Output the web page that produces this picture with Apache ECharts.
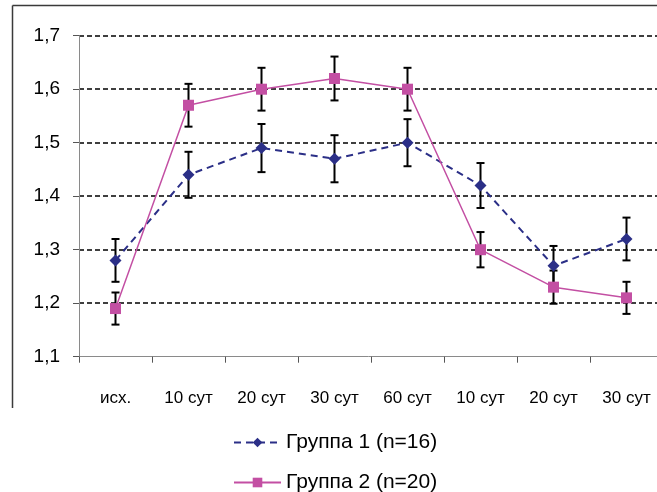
<!DOCTYPE html>
<html><head><meta charset="utf-8">
<script src="https://cdn.jsdelivr.net/npm/echarts@6/dist/echarts.min.js"></script>
<style>html,body{margin:0;padding:0;background:#fff}#c{width:657px;height:492px}</style>
</head><body><div id="c"></div>
<script>
var categories = ['исх.', '10 сут', '20 сут', '30 сут', '60 сут', '10 сут', '20 сут', '30 сут'];
var group1 = [1.28, 1.44, 1.49, 1.47, 1.50, 1.42, 1.27, 1.32];
var group1Err = [0.04, 0.043, 0.045, 0.044, 0.044, 0.042, 0.037, 0.04];
var group2 = [1.19, 1.57, 1.60, 1.62, 1.60, 1.30, 1.23, 1.21];
var group2Err = [0.03, 0.04, 0.04, 0.041, 0.04, 0.033, 0.031, 0.03];
var seriesNames = ['Группа 1 (n=16)', 'Группа 2 (n=20)'];
var yTicks = { min: 1.1, max: 1.7, interval: 0.1 };

var errData = [];
for (var i = 0; i < categories.length; i++) {
  errData.push([i, group1[i] - group1Err[i], group1[i] + group1Err[i]]);
  errData.push([i, group2[i] - group2Err[i], group2[i] + group2Err[i]]);
}

function renderErr(params, api) {
  var x = api.value(0);
  var lo = api.coord([x, api.value(1)]);
  var hi = api.coord([x, api.value(2)]);
  var hw = 4;
  var st = { stroke: '#000', lineWidth: 2 };
  return {
    type: 'group',
    children: [
      { type: 'line', shape: { x1: hi[0], y1: hi[1], x2: lo[0], y2: lo[1] }, style: st },
      { type: 'line', shape: { x1: hi[0] - hw, y1: hi[1], x2: hi[0] + hw, y2: hi[1] }, style: st },
      { type: 'line', shape: { x1: lo[0] - hw, y1: lo[1], x2: lo[0] + hw, y2: lo[1] }, style: st }
    ]
  };
}

var legendBase = {
  orient: 'vertical',
  left: 228,
  itemWidth: 47,
  itemHeight: 12,
  itemGap: 10,
  textStyle: { fontSize: 21, color: '#000', fontFamily: 'Liberation Sans, Arial, sans-serif' }
};

var chart = echarts.init(document.getElementById('c'), null, { renderer: 'canvas' });
chart.setOption({
  animation: false,
  backgroundColor: '#fff',
  textStyle: { fontFamily: 'Liberation Sans, Arial, sans-serif' },
  grid: { left: 79, top: 35.7, width: 584, height: 321, containLabel: false, outerBoundsMode: 'none' },
  graphic: [
    { type: 'line', shape: { x1: 12.5, y1: 5.5, x2: 657, y2: 5.5 }, style: { stroke: '#3a3a3a', lineWidth: 1.5 }, z: 100 },
    { type: 'line', shape: { x1: 12.5, y1: 5.5, x2: 12.5, y2: 408 }, style: { stroke: '#3a3a3a', lineWidth: 1.5 }, z: 100 }
  ],
  legend: [
    Object.assign({}, legendBase, { data: [seriesNames[0]], top: 427 }),
    Object.assign({}, legendBase, { data: [seriesNames[1]], top: 467 })
  ],
  xAxis: {
    type: 'category',
    data: categories,
    boundaryGap: true,
    axisLine: { lineStyle: { color: '#8a8a8a', width: 1 } },
    axisTick: { show: true, inside: false, length: 6, lineStyle: { color: '#555' } },
    axisLabel: { fontSize: 17, color: '#000', margin: 33, interval: 0 },
    splitLine: { show: false }
  },
  yAxis: {
    type: 'value',
    min: yTicks.min,
    max: yTicks.max,
    interval: yTicks.interval,
    axisLine: { show: true, lineStyle: { color: '#8a8a8a', width: 1 } },
    axisTick: { show: true, inside: false, length: 6, lineStyle: { color: '#555' } },
    axisLabel: {
      fontSize: 19, color: '#000', margin: 19,
      formatter: function (v) { return v.toFixed(1).replace('.', ','); }
    },
    splitLine: { show: true, showMinLine: false, lineStyle: { color: '#000', type: [5, 3], width: 1.5 } }
  },
  series: [
    {
      type: 'custom',
      name: 'err',
      renderItem: renderErr,
      data: errData,
      encode: { x: 0, y: [1, 2] },
      z: 1,
      silent: true
    },
    {
      type: 'line',
      name: seriesNames[0],
      data: group1,
      symbol: 'diamond',
      symbolSize: 12,
      itemStyle: { color: '#2b2f87' },
      lineStyle: { color: '#2b2f87', width: 2, type: [7, 5] },
      z: 3
    },
    {
      type: 'line',
      name: seriesNames[1],
      data: group2,
      symbol: 'rect',
      symbolSize: 11,
      itemStyle: { color: '#c34fa3' },
      lineStyle: { color: '#c34fa3', width: 1.5, type: 'solid' },
      z: 4
    }
  ]
});
</script></body></html>
